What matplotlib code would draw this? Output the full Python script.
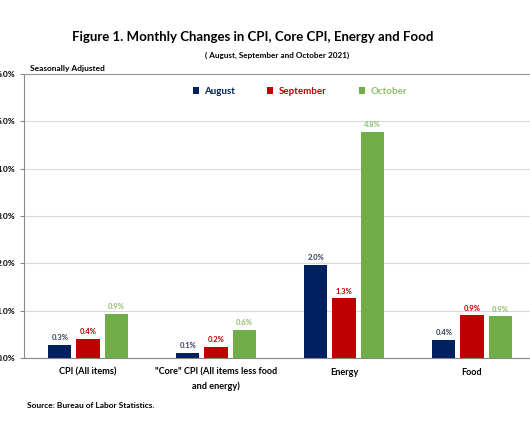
import matplotlib
matplotlib.use("Agg")
import matplotlib.pyplot as plt
import numpy as np

plt.rcParams['font.family'] = ['Lato', 'DejaVu Sans']

categories = ['CPI (All items)', '"Core" CPI (All items less food\nand energy)', 'Energy', 'Food']
months = ['August', 'September', 'October']
august = [0.27, 0.10, 1.97, 0.38]
september = [0.41, 0.24, 1.26, 0.90]
october = [0.94, 0.60, 4.77, 0.88]
yticks = [0, 1, 2, 3, 4, 5, 6]

colors = ['#002060', '#C00000', '#70AD47']
label_colors = ['#333F50', '#C00000', '#8FBF6A']

fig = plt.figure(figsize=(5.3, 4.42), dpi=100)
ax = fig.add_axes([24 / 530, 84 / 442, 512 / 530, 284 / 442])

x = np.arange(len(categories))
width = 0.18
step = 0.22
for i, (vals, c, lc) in enumerate(zip([august, september, october], colors, label_colors)):
    pos = x + (i - 1) * step
    ax.bar(pos, vals, width, color=c, label=months[i], zorder=3)
    for px, v in zip(pos, vals):
        ax.text(px, v + 0.08, f'{v:.1f}%', ha='center', va='bottom',
                fontsize=5.5, fontweight='bold', color=lc)

ax.set_xlim(-0.5, 3.5)
ax.set_ylim(0, 6)
ax.set_yticks(yticks)
ax.set_yticklabels([f'{t:.1f}%' for t in yticks], fontsize=6, fontweight='bold')
ax.set_xticks(x)
ax.set_xticklabels(categories, fontsize=6.6, fontweight='bold', linespacing=1.6)
ax.tick_params(axis='x', length=0, pad=7)
ax.tick_params(axis='y', length=3, pad=3, color='#888888')
ax.grid(axis='y', color='#d9d9d9', linewidth=0.8, zorder=0)
ax.spines['right'].set_visible(False)
ax.spines['top'].set_color('#999999')
ax.spines['left'].set_color('#888888')
ax.spines['bottom'].set_color('#888888')

leg = ax.legend(loc='upper center', bbox_to_anchor=(276 / 512, 0.985), ncol=3, frameon=False,
                handlelength=0.6, handleheight=0.6, columnspacing=3.3,
                handletextpad=0.6, prop={'weight': 'bold', 'size': 7})
for t, c in zip(leg.get_texts(), ['#002060', '#C00000', '#8FBF6A']):
    t.set_color(c)

fig.text(253 / 530, 1 - 37 / 442, 'Figure 1. Monthly Changes in CPI, Core CPI, Energy and Food',
         ha='center', va='center', fontsize=9.5, fontweight='bold')
fig.text(277 / 530, 1 - 55 / 442, '( August, September and October 2021)',
         ha='center', va='center', fontsize=5.9, fontweight='bold')
fig.text(30 / 530, 1 - 68 / 442, 'Seasonally Adjusted', ha='left', va='center',
         fontsize=6, fontweight='bold')
fig.text(27 / 530, 1 - 406 / 442, 'Source: Bureau of Labor Statistics.', ha='left', va='center',
         fontsize=6, fontweight='bold')

fig.savefig('out.png', dpi=100)
